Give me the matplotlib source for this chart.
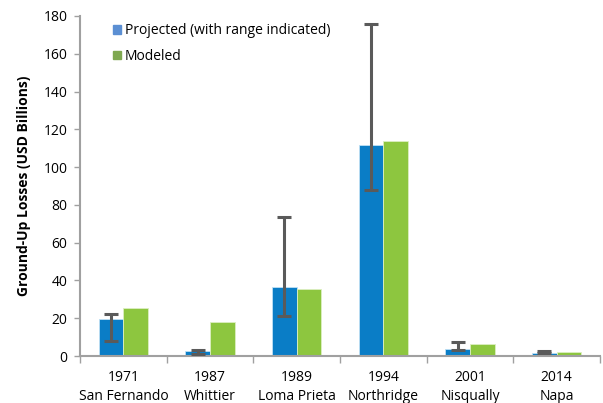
import matplotlib
matplotlib.use("Agg")
import matplotlib.pyplot as plt
import numpy as np
from matplotlib.patches import Patch

years = ["1971", "1987", "1989", "1994", "2001", "2014"]
names = ["San Fernando", "Whittier", "Loma Prieta", "Northridge", "Nisqually", "Napa"]
projected = [19.6, 2.8, 36.5, 111.8, 3.7, 1.6]
proj_low = [8.1, 1.2, 21.3, 87.7, 3.2, 1.4]
proj_high = [22.2, 3.2, 73.4, 175.8, 7.4, 2.5]
modeled = [25.6, 18.0, 35.6, 114.0, 6.3, 2.1]

plt.rcParams['font.family'] = ['Open Sans', 'DejaVu Sans']

fig = plt.figure(figsize=(6.03, 4.03), dpi=100)
ax = fig.add_axes([80/603, 1-356/403, 520/603, 340/403])

x = np.arange(len(years))
w = 0.285
blue = "#0A7DC6"
green = "#8DC63F"
ax.bar(x - w/2, projected, w, color=blue, edgecolor="#BFE0F5", linewidth=0.6, zorder=2)
ax.bar(x + w/2, modeled, w, color=green, edgecolor="#DCEFC2", linewidth=0.6, zorder=2)
yerr = [np.array(projected) - np.array(proj_low), np.array(proj_high) - np.array(projected)]
ax.errorbar(x - w/2, projected, yerr=yerr, fmt='none', ecolor="#5A5A5A",
            elinewidth=2.2, capsize=5, capthick=2.2, zorder=3)

ax.set_xlim(-0.5, len(years) - 0.5)
ax.set_ylim(0, 180)
ax.set_yticks(np.arange(0, 181, 20))
ax.tick_params(axis='y', labelsize=10, length=4, color="#A0A0A0", width=1, pad=5)
ax.set_xticks(np.arange(-0.5, len(years), 1))
ax.set_xticklabels([])
ax.tick_params(axis='x', length=5, color="#A0A0A0", width=1)
ax.set_xticks(x, minor=True)
ax.set_xticklabels([f"{y}\n{n}" for y, n in zip(years, names)], minor=True, fontsize=10)
ax.tick_params(axis='x', which='minor', length=0, pad=10)
for lab in ax.get_xticklabels(minor=True):
    lab.set_linespacing(1.35)

for s in ["top", "right"]:
    ax.spines[s].set_visible(False)
for s in ["left", "bottom"]:
    ax.spines[s].set_color("#A0A0A0")
    ax.spines[s].set_linewidth(1.5)

ax.set_ylabel("Ground-Up Losses (USD Billions)", fontsize=10, fontweight='bold', labelpad=9)

handles = [Patch(color="#5B8FD3"), Patch(color="#7FA850")]
ax.legend(handles, ["Projected (with range indicated)", "Modeled"], loc='upper left',
          bbox_to_anchor=(0.04, 1.015), frameon=False, fontsize=10,
          handlelength=0.55, handleheight=0.55, handletextpad=0.3, labelspacing=0.75)

fig.savefig("out.png", dpi=100)
